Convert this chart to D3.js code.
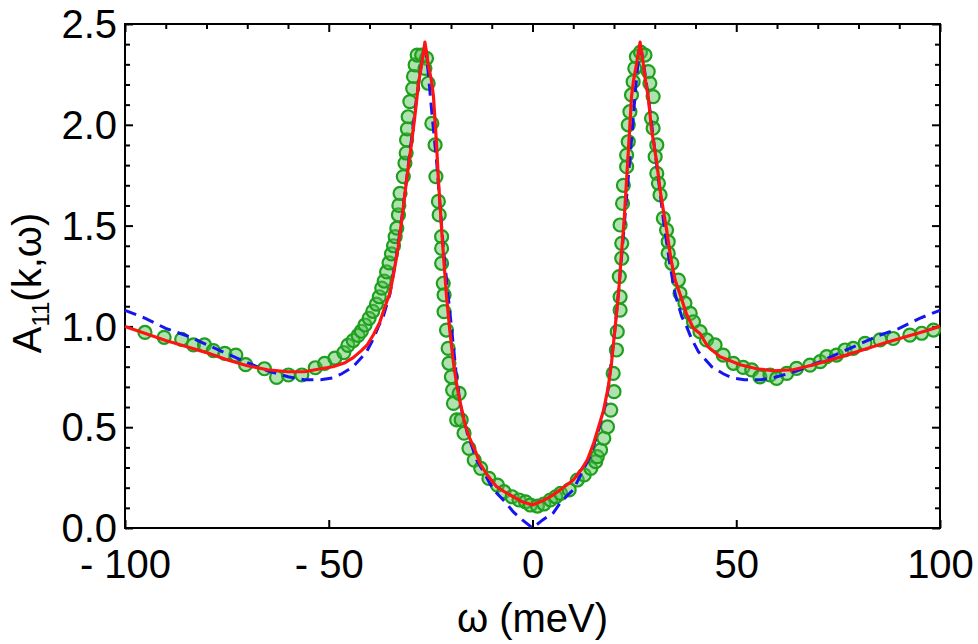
<!DOCTYPE html>
<html>
<head>
<meta charset="utf-8">
<script src="https://cdn.jsdelivr.net/npm/d3@7"></script>
<style>
  body { margin: 0; background: #fff; }
  svg { font-family: 'Liberation Sans', Arial, sans-serif; }
</style>
</head>
<body>
<svg width="978" height="644"></svg>
<script>

// measured points (green circles)
let dataOmega = [-95.1, -90.4, -86.1, -83.2, -80.5, -78.3, -75.5, -72.8, -70.4, -65.8,
  -62.8, -59.9, -56.6, -53.3, -51.0, -48.5, -46.3, -45.3, -44.0, -42.8,
  -42.0, -41.1, -40.1, -39.2, -38.3, -37.6, -37.0, -36.4, -35.8, -35.2,
  -34.6, -34.1, -33.7, -33.3, -32.9, -32.8, -32.5, -31.7, -31.3, -31.0,
  -30.9, -30.7, -30.5, -30.1, -29.4, -29.2, -28.8, -28.3, -27.2, -26.0,
  -26.4, -25.6, -24.7, -23.9, -23.7, -23.1, -22.9, -22.3, -22.3, -22.3,
  -21.9, -21.7, -21.7, -21.1, -20.7, -20.5, -19.9, -19.6, -19.4, -18.6,
  -18.0, -17.5, -16.8, -15.6, -14.3, -12.7, -10.7, -8.6, -7.0, -5.0,
  -3.3, -1.7, -0.5, 1.2, 2.8, 4.4, 5.7, 6.9, 9.0, 11.0,
  12.7, 14.3, 15.5, 15.9, 16.7, 17.5, 18.4, 19.2, 20.0, 19.8,
  20.6, 20.8, 21.5, 21.5, 21.3, 21.9, 21.9, 21.5, 22.1, 22.3,
  23.1, 23.1, 23.5, 23.5, 23.9, 24.3, 24.7, 25.1, 25.5, 26.5,
  27.6, 28.4, 28.8, 29.6, 29.2, 29.6, 30.5, 30.1, 30.5, 30.9,
  31.3, 32.1, 32.9, 33.3, 33.3, 34.2, 35.8, 36.2, 37.4, 38.7,
  39.5, 41.1, 42.7, 44.8, 46.8, 49.3, 51.7, 53.8, 55.8, 58.3,
  59.9, 62.4, 64.8, 68.1, 70.6, 72.2, 74.6, 76.7, 78.7, 81.6,
  85.3, 88.5, 92.6, 95.5, 98.4];
let dataValue = [0.970, 0.946, 0.936, 0.908, 0.908, 0.880, 0.866, 0.858, 0.810, 0.790,
  0.747, 0.759, 0.759, 0.795, 0.817, 0.843, 0.870, 0.906, 0.930, 0.955,
  0.976, 1.007, 1.040, 1.075, 1.110, 1.147, 1.190, 1.225, 1.270, 1.315,
  1.360, 1.400, 1.445, 1.487, 1.553, 1.600, 1.660, 1.743, 1.810, 1.860,
  1.925, 1.980, 2.040, 2.115, 2.180, 2.240, 2.297, 2.346, 2.346, 2.330,
  2.280, 2.206, 2.007, 1.900, 1.743, 1.620, 1.553, 1.445, 1.387, 1.313,
  1.214, 1.156, 1.073, 0.982, 0.891, 0.817, 0.750, 0.684, 0.618, 0.536,
  0.668, 0.536, 0.470, 0.395, 0.337, 0.296, 0.246, 0.213, 0.180, 0.155,
  0.139, 0.130, 0.114, 0.109, 0.119, 0.139, 0.155, 0.172, 0.189, 0.238,
  0.263, 0.296, 0.329, 0.354, 0.387, 0.445, 0.502, 0.585, 0.676, 0.767,
  0.883, 0.974, 1.081, 1.147, 1.247, 1.338, 1.412, 1.503, 1.610, 1.700,
  1.792, 1.850, 1.916, 2.000, 2.065, 2.148, 2.214, 2.280, 2.338, 2.360,
  2.346, 2.264, 2.206, 2.140, 2.032, 1.983, 1.900, 1.842, 1.759, 1.710,
  1.652, 1.536, 1.478, 1.420, 1.363, 1.313, 1.230, 1.164, 1.115, 1.065,
  1.023, 0.974, 0.933, 0.908, 0.858, 0.817, 0.797, 0.784, 0.750, 0.759,
  0.742, 0.767, 0.792, 0.808, 0.825, 0.850, 0.858, 0.883, 0.891, 0.916,
  0.933, 0.940, 0.957, 0.966, 0.982];

// red solid curve
let redOmega = [-100, -95, -90, -85, -80, -75, -70, -65, -60, -56,
  -52, -49, -46, -44, -42, -40.5, -39, -37.5, -36, -35,
  -34, -33, -32, -31, -30, -29, -28, -27, -26.4, -25.6,
  -24.8, -24.3, -23.6, -23.1, -22.3, -21.7, -21.1, -20.3, -19.4, -18.6,
  -17.5, -16.5, -15.5, -14, -12.9, -11, -8.8, -6.5, -4.7, -2.5,
  0, 2.5, 5, 7.5, 10, 12, 13.5, 15, 16.2, 17.4,
  18.6, 19.4, 20.2, 21.1, 21.9, 22.5, 23.1, 23.7, 24.3, 24.8,
  25.6, 26.4, 27, 27.8, 28.4, 29.2, 30.5, 31.5, 32.9, 34,
  35, 36.2, 37.8, 39.5, 41.1, 43, 46, 48.5, 51, 55,
  59, 64, 69, 75, 81, 86, 91.8, 96, 100];
let redValue = [1.0, 0.965, 0.93, 0.90, 0.87, 0.835, 0.805, 0.785, 0.775, 0.775,
  0.79, 0.80, 0.82, 0.845, 0.88, 0.91, 0.96, 1.02, 1.11, 1.165,
  1.27, 1.39, 1.54, 1.71, 1.86, 2.02, 2.20, 2.33, 2.41, 2.30,
  2.22, 2.14, 1.92, 1.73, 1.48, 1.31, 1.15, 0.98, 0.82, 0.71,
  0.60, 0.51, 0.45, 0.38, 0.32, 0.26, 0.205, 0.175, 0.155, 0.13,
  0.114, 0.135, 0.163, 0.20, 0.238, 0.29, 0.34, 0.42, 0.50, 0.58,
  0.70, 0.82, 0.98, 1.16, 1.38, 1.53, 1.73, 1.93, 2.14, 2.22,
  2.31, 2.41, 2.33, 2.21, 2.14, 1.98, 1.81, 1.65, 1.48, 1.33,
  1.23, 1.16, 1.06, 0.99, 0.965, 0.90, 0.85, 0.83, 0.81, 0.79,
  0.78, 0.785, 0.81, 0.845, 0.883, 0.915, 0.95, 0.975, 1.0];

// blue dashed curve
let blueOmega = [-100, -95, -90, -85, -80, -75, -70, -65, -60, -56,
  -52, -49, -46.8, -44, -42, -40.7, -39, -37.8, -36.6, -35,
  -33.7, -32.3, -30.9, -29.5, -28.4, -27.5, -26.8, -26.2, -25.6, -24.7,
  -23.5, -22.7, -21.9, -20.8, -19.8, -18.8, -17.8, -16, -13.7, -11.5,
  -9.6, -7, -4.7, -2.5, 0, 2.5, 5.1, 7, 10, 12,
  14.1, 16, 18.2, 19.2, 20.2, 21.1, 22.1, 23, 24.2, 25.3,
  26.2, 26.8, 27.5, 28.4, 29.5, 30.9, 32.3, 33.7, 35, 36.6,
  37.8, 39, 40.7, 42, 44, 46.8, 49, 52, 56, 60,
  65, 70, 75, 80, 85, 90, 95, 100];
let blueValue = [1.08, 1.04, 0.99, 0.955, 0.91, 0.865, 0.82, 0.78, 0.75, 0.735,
  0.735, 0.745, 0.765, 0.80, 0.845, 0.875, 0.94, 1.0, 1.05, 1.16,
  1.31, 1.50, 1.73, 1.96, 2.14, 2.27, 2.355, 2.37, 2.26, 2.06,
  1.81, 1.60, 1.395, 1.17, 0.98, 0.78, 0.62, 0.47, 0.337, 0.26,
  0.19, 0.135, 0.08, 0.04, 0.0, 0.04, 0.075, 0.13, 0.19, 0.27,
  0.354, 0.47, 0.635, 0.80, 0.98, 1.17, 1.40, 1.62, 1.90, 2.18,
  2.37, 2.355, 2.27, 2.14, 1.96, 1.73, 1.50, 1.31, 1.16, 1.05,
  1.0, 0.94, 0.875, 0.845, 0.80, 0.765, 0.745, 0.735, 0.735, 0.75,
  0.78, 0.82, 0.865, 0.91, 0.955, 0.99, 1.04, 1.08];

let xTickValues = [-100, -50, 0, 50, 100];
let xTickLabels = ['- 100', '- 50', '0', '50', '100'];
let yTickValues = [0, 0.5, 1.0, 1.5, 2.0, 2.5];
let yTickLabels = ['0.0', '0.5', '1.0', '1.5', '2.0', '2.5'];

let plotLeft = 125, plotRight = 940, plotTop = 24, plotBottom = 528;

let xScale = d3.scaleLinear()
               .domain([-100, 100])
               .range([plotLeft, plotRight]);

let yScale = d3.scaleLinear()
               .domain([0, 2.5])
               .range([plotBottom, plotTop]);

let svg = d3.select('svg');

let xMinor = d3.range(-90, 100, 10).filter(function(v) { return v % 50 !== 0; });
let yMinor = d3.range(1, 25, 1).filter(function(v) { return v % 5 !== 0; })
               .map(function(v) { return v / 10; });

function styleAxis(g) {
  g.select('.domain').remove();
  g.selectAll('.tick line').attr('stroke', '#000').attr('stroke-width', 2);
  g.selectAll('.tick text').attr('fill', '#000').style('font-size', '40px')
    .style('font-family', "'Liberation Sans', Arial, sans-serif");
}

// bottom: major ticks with labels
svg.append('g')
   .attr('transform', 'translate(0,' + plotBottom + ')')
   .call(d3.axisBottom(xScale)
           .tickValues(xTickValues)
           .tickSize(-8)
           .tickPadding(22)
           .tickFormat(function(d, i) { return xTickLabels[i]; }))
   .call(styleAxis);

// top: major + minor
svg.append('g')
   .attr('transform', 'translate(0,' + plotTop + ')')
   .call(d3.axisTop(xScale).tickValues(xTickValues).tickSize(-8).tickFormat(''))
   .call(styleAxis);
svg.append('g')
   .attr('transform', 'translate(0,' + plotTop + ')')
   .call(d3.axisTop(xScale).tickValues(xMinor).tickSize(-5).tickFormat(''))
   .call(styleAxis);

// left: labels + minor
svg.append('g')
   .attr('class', 'yAxisG')
   .attr('transform', 'translate(' + plotLeft + ',0)')
   .call(d3.axisLeft(yScale)
           .tickValues(yTickValues)
           .tickSize(-8)
           .tickPadding(8)
           .tickFormat(function(d, i) { return yTickLabels[i]; }))
   .call(styleAxis);
svg.append('g')
   .attr('transform', 'translate(' + plotLeft + ',0)')
   .call(d3.axisLeft(yScale).tickValues(yMinor).tickSize(-5).tickFormat(''))
   .call(styleAxis);

// right
svg.append('g')
   .attr('transform', 'translate(' + plotRight + ',0)')
   .call(d3.axisRight(yScale).tickValues(yTickValues).tickSize(-8).tickFormat(''))
   .call(styleAxis);
svg.append('g')
   .attr('transform', 'translate(' + plotRight + ',0)')
   .call(d3.axisRight(yScale).tickValues(yMinor).tickSize(-5).tickFormat(''))
   .call(styleAxis);

svg.selectAll('.yAxisG .tick text').attr('dy', '0.34em');

// frame
svg.append('rect')
   .attr('x', plotLeft)
   .attr('y', plotTop)
   .attr('width', plotRight - plotLeft)
   .attr('height', plotBottom - plotTop)
   .attr('fill', 'none')
   .attr('stroke', '#000')
   .attr('stroke-width', 2);

// data circles
let points = dataOmega.map(function(w, i) { return { w: w, a: dataValue[i] }; });

svg.append('g')
   .selectAll('circle.data')
   .data(points)
   .enter()
   .append('circle')
   .attr('class', 'data')
   .attr('r', 6.5)
   .attr('cx', function(d) { return xScale(d.w); })
   .attr('cy', function(d) { return yScale(d.a); })
   .attr('fill', 'rgba(80,190,80,0.45)')
   .attr('stroke', '#1ea01e')
   .attr('stroke-width', 2.2);

let line = d3.line()
             .x(function(d) { return xScale(d[0]); })
             .y(function(d) { return yScale(d[1]); });

svg.append('path')
   .attr('d', line(blueOmega.map(function(w, i) { return [w, blueValue[i]]; })))
   .attr('fill', 'none')
   .attr('stroke', '#1515f0')
   .attr('stroke-width', 3)
   .attr('stroke-dasharray', '12,7');

svg.append('path')
   .attr('d', line(redOmega.map(function(w, i) { return [w, redValue[i]]; })))
   .attr('fill', 'none')
   .attr('stroke', '#ff1414')
   .attr('stroke-width', 3.2)
   .attr('stroke-linejoin', 'round');

// axis titles
svg.append('text')
   .attr('x', (plotLeft + plotRight) / 2)
   .attr('y', 632)
   .attr('text-anchor', 'middle')
   .style('font-size', '40px')
   .text('ω (meV)');

let yTitle = svg.append('text')
   .attr('transform', 'translate(41,283) rotate(-90)')
   .attr('text-anchor', 'middle')
   .style('font-size', '40px');
yTitle.append('tspan').text('A');
yTitle.append('tspan').attr('dy', 8).style('font-size', '24px').text('11');
yTitle.append('tspan').attr('dy', -8).text('(k,ω)');

</script>
</body>
</html>
